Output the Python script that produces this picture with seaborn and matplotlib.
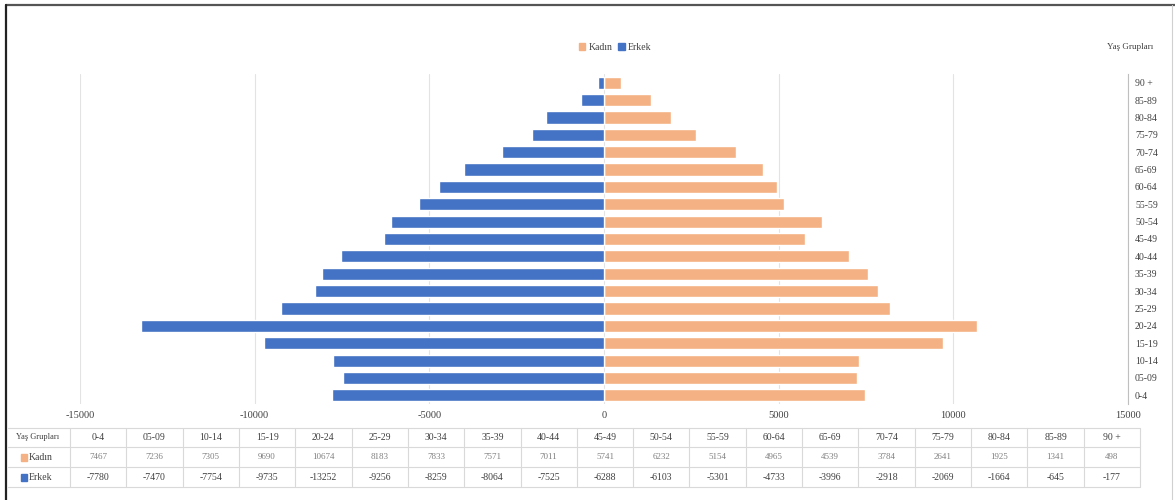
import matplotlib
matplotlib.use("Agg")
import matplotlib.pyplot as plt
from matplotlib.patches import Patch, Rectangle
import seaborn as sns
import pandas as pd

# Population by five-year age group
age_groups = ["0-4", "05-09", "10-14", "15-19", "20-24", "25-29", "30-34", "35-39",
              "40-44", "45-49", "50-54", "55-59", "60-64", "65-69", "70-74", "75-79",
              "80-84", "85-89", "90 +"]
kadin = [7467, 7236, 7305, 9690, 10674, 8183, 7833, 7571, 7011, 5741, 6232, 5154,
         4965, 4539, 3784, 2641, 1925, 1341, 498]
erkek = [-7780, -7470, -7754, -9735, -13252, -9256, -8259, -8064, -7525, -6288,
         -6103, -5301, -4733, -3996, -2918, -2069, -1664, -645, -177]
x_ticks = [-15000, -10000, -5000, 0, 5000, 10000, 15000]

ORANGE = "#F4B183"
BLUE = "#4472C4"
W, H = 1175, 500

sns.set_theme(style="white")
plt.rcParams["font.family"] = ["Liberation Serif", "DejaVu Sans"]

fig = plt.figure(figsize=(W / 100, H / 100), dpi=100)
fig.patch.set_facecolor("white")

ax = fig.add_axes([80 / W, 96 / H, 1048 / W, 330 / H])
df = pd.DataFrame({
    "Yaş": age_groups * 2,
    "Nüfus": kadin + erkek,
    "Cinsiyet": ["Kadın"] * len(kadin) + ["Erkek"] * len(erkek),
})
sns.barplot(data=df, y="Yaş", x="Nüfus", hue="Cinsiyet",
            order=age_groups[::-1], hue_order=["Kadın", "Erkek"],
            palette=[ORANGE, BLUE], dodge=False, width=0.7, orient="h",
            legend=False, ax=ax, saturation=1)

ax.set_xlim(-15000, 15000)
ax.set_xticks(x_ticks)
ax.set_xticklabels([str(t) for t in x_ticks])
ax.set_xlabel("")
ax.set_ylabel("")
ax.yaxis.tick_right()
for s in ("top", "left", "bottom"):
    ax.spines[s].set_visible(False)
ax.spines["right"].set_color("#bfbfbf")
ax.spines["right"].set_linewidth(0.8)
ax.tick_params(axis="y", length=0, pad=5, labelsize=7, colors="#404040")
ax.tick_params(axis="x", length=0, pad=5, labelsize=7.5, colors="#404040")
ax.grid(axis="x", color="#e3e3e3", lw=0.8)
ax.set_axisbelow(True)

# Legend and axis title
handles = [Patch(color=ORANGE, label="Kadın"), Patch(color=BLUE, label="Erkek")]
fig.legend(handles=handles, loc="center", bbox_to_anchor=(615 / W, 1 - 47 / H),
           ncol=2, frameon=False, fontsize=7, handlelength=0.7, handleheight=0.7,
           columnspacing=0.6, handletextpad=0.3, labelcolor="#404040")
fig.text(1130 / W, 1 - 47 / H, "Yaş Grupları", ha="center", va="center",
         fontsize=6.5, color="#404040")

# Data table underneath, laid out in pixel coordinates
ov = fig.add_axes([0, 0, 1, 1], facecolor="none")
ov.set_xlim(0, W)
ov.set_ylim(H, 0)
ov.axis("off")

tbl_left, tbl_first, tbl_right = 8, 70, 1140
col_w = (tbl_right - tbl_first) / len(age_groups)
rows_y = [437, 457, 477]
line_c = "#d9d9d9"
for y in (428, 447, 467, 487):
    ov.plot([tbl_left, tbl_right], [y, y], color=line_c, lw=0.8)
for i in range(len(age_groups) + 1):
    x = tbl_first + i * col_w
    ov.plot([x, x], [428, 487], color=line_c, lw=0.8)

ov.text(38, rows_y[0], "Yaş Grupları", ha="center", va="center", fontsize=6, color="#404040")
for lab, col, y in (("Kadın", ORANGE, rows_y[1]), ("Erkek", BLUE, rows_y[2])):
    ov.add_patch(Rectangle((21, y - 3.5), 6, 7, color=col))
    ov.text(29, y, lab, ha="left", va="center", fontsize=7, color="#404040")

for i, (g, k, e) in enumerate(zip(age_groups, kadin, erkek)):
    cx = tbl_first + (i + 0.5) * col_w
    ov.text(cx, rows_y[0], g, ha="center", va="center", fontsize=7, color="#404040")
    ov.text(cx, rows_y[1], str(k), ha="center", va="center", fontsize=6.5, color="#808080")
    ov.text(cx, rows_y[2], str(e), ha="center", va="center", fontsize=7, color="#404040")

# Outer frame
ov.plot([6, W], [5, 5], color="#555555", lw=1.6)
ov.plot([6, 6], [5, H], color="#222222", lw=1.6)
ov.plot([1172, 1172], [5, H], color="#d0d0d0", lw=0.8)

fig.savefig("out.png", dpi=100, facecolor="white")
